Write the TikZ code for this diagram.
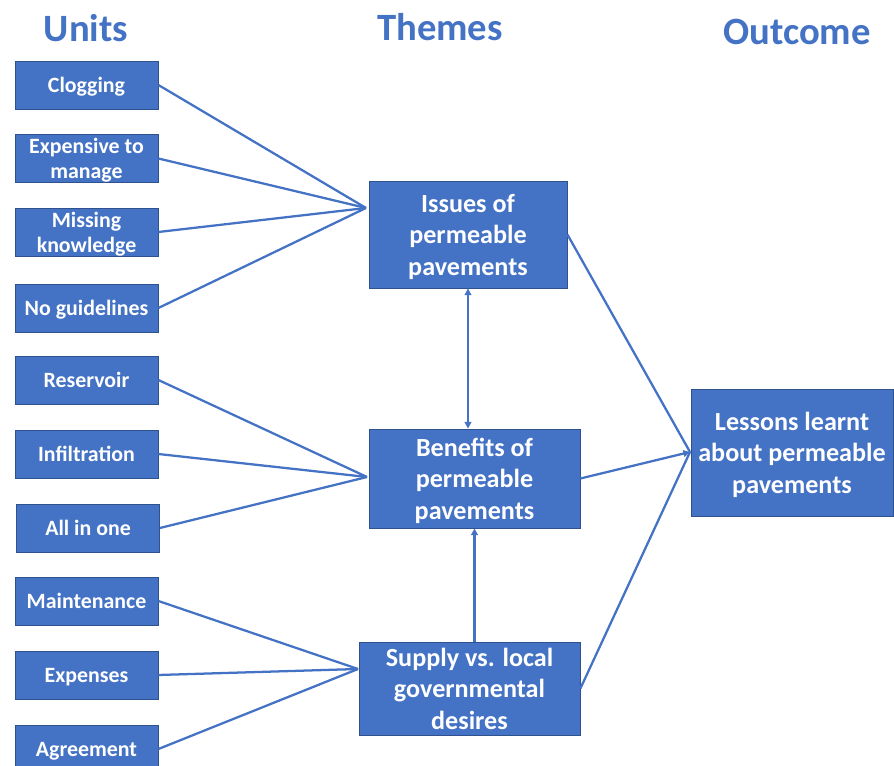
\documentclass[tikz,border=0pt]{standalone}
\usepackage{fontspec}
\setmainfont{Carlito}
\usepackage{tikz}
\usetikzlibrary{arrows.meta}
\definecolor{boxblue}{RGB}{68,114,196}
\definecolor{boxedge}{RGB}{47,82,143}
\tikzset{
  unitbox/.style={rectangle, draw=boxedge, line width=0.6pt, fill=boxblue, text=white, align=center,
    inner sep=0pt, text depth=0pt, minimum width=107.25pt, minimum height=36pt,
    font=\fontsize{16.4}{18.75}\selectfont\bfseries},
  themebox/.style={rectangle, draw=boxedge, line width=0.6pt, fill=boxblue, text=white, align=center,
    inner sep=0pt, text depth=0pt, font=\fontsize{19.6}{23.6}\selectfont\bfseries},
  heading/.style={text=boxblue, inner sep=0pt, font=\fontsize{29}{34}\selectfont\bfseries},
  link/.style={draw=boxblue, line width=1.7pt},
  tip/.style={-{Triangle[length=5pt,width=5pt]}}
}
\begin{document}
\begin{tikzpicture}[x=0.75pt,y=0.75pt,yscale=-1,xscale=1]
        \clip (0,0) rectangle (894,766);

        % Headings
        \node [heading] (hunits) at (86,28) {Units};
        \node [heading] (hthemes) at (440,27) {Themes};
        \node [heading] (houtcome) at (797,32) {Outcome};

        % Units
        \node [unitbox] (clog) at (86.5,85) {Clogging};
        \node [unitbox] (expman) at (86.5,158.5) {Expensive to\\manage};
        \node [unitbox] (missk) at (86.5,232) {Missing\\knowledge};
        \node [unitbox] (noguide) at (86.5,308) {No guidelines};
        \node [unitbox] (reserv) at (86.5,380) {Reservoir};
        \node [unitbox] (infilt) at (86.5,454) {Infiltration};
        \node [unitbox] (allone) at (88,528) {All in one};
        \node [unitbox] (maint) at (86.5,601) {Maintenance};
        \node [unitbox] (expens) at (86.5,675) {Expenses};
        \node [unitbox] (agree) at (86.5,749) {Agreement};

        % Themes
        \node [themebox, minimum width=148.5pt, minimum height=80.25pt] (issues) at (468,234.5) {Issues of\\permeable\\pavements};
        \node [themebox, minimum width=158.25pt, minimum height=74.25pt] (benefits) at (474.5,478.5) {Benefits of\\permeable\\pavements};
        \node [themebox, minimum width=165.75pt, minimum height=69.75pt] (supply) at (469.5,688.5) {Supply vs. local\\governmental\\desires};

        % Outcome
        \node [themebox, minimum width=151.5pt, minimum height=95.25pt] (lessons) at (792,452.5) {Lessons learnt\\about permeable\\pavements};

        % meeting points
        \coordinate (mIssues) at (366,208);
        \coordinate (mBenefits) at (367,477);
        \coordinate (mSupply) at (358,669);
        \coordinate (mLessons) at (690,452);

        % Units to themes
        \foreach \u in {clog,expman,missk,noguide}
          \draw [link] (\u.east) -- (mIssues);
        \foreach \u in {reserv,infilt,allone}
          \draw [link] (\u.east) -- (mBenefits);
        \foreach \u in {maint,expens,agree}
          \draw [link] (\u.east) -- (mSupply);

        % Between themes
        \draw [link, {Triangle[length=5pt,width=5pt]}-{Triangle[length=5pt,width=5pt]}] (issues.south) -- (issues.south |- benefits.north);
        \draw [link, tip] (benefits.south |- supply.north) -- (benefits.south);

        % Themes to outcome
        \draw [link] (issues.east) -- (mLessons);
        \draw [link, tip] (benefits.east) -- (mLessons);
        \draw [link] (supply.east) -- (mLessons);
\end{tikzpicture}
\end{document}
